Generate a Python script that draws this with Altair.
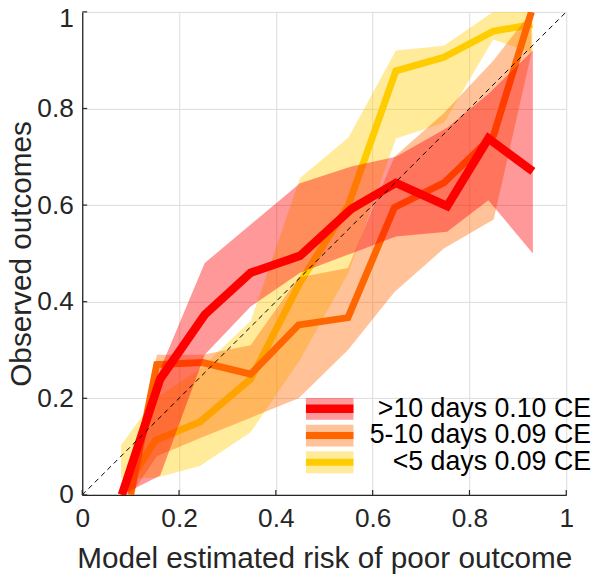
import altair as alt
import pandas as pd

# ---------------- data ----------------
red_x  = [0.082, 0.161, 0.253, 0.348, 0.450, 0.556, 0.648, 0.754, 0.839, 0.931]
red_y  = [0.000, 0.240, 0.373, 0.460, 0.495, 0.592, 0.646, 0.598, 0.738, 0.670]
red_lo = [0.000, 0.040, 0.290, 0.390, 0.460, 0.500, 0.535, 0.545, 0.610, 0.500]
red_hi = [0.000, 0.260, 0.480, 0.560, 0.645, 0.680, 0.700, 0.760, 0.830, 0.920]

org_x  = [0.100, 0.154, 0.249, 0.348, 0.447, 0.549, 0.645, 0.747, 0.850, 0.928]
org_y  = [0.000, 0.270, 0.274, 0.250, 0.352, 0.367, 0.595, 0.646, 0.745, 1.000]
org_lo = [0.000, 0.080, 0.120, 0.160, 0.200, 0.300, 0.420, 0.510, 0.570, 0.915]
org_hi = [0.000, 0.290, 0.290, 0.310, 0.450, 0.470, 0.700, 0.790, 0.900, 1.000]

yel_x  = [0.080, 0.151, 0.243, 0.348, 0.450, 0.550, 0.648, 0.747, 0.849, 0.930]
yel_y  = [0.000, 0.113, 0.151, 0.240, 0.440, 0.600, 0.878, 0.906, 0.960, 0.974]
yel_lo = [0.035, 0.035, 0.060, 0.130, 0.280, 0.460, 0.738, 0.770, 0.943, 0.915]
yel_hi = [0.103, 0.200, 0.260, 0.360, 0.656, 0.740, 0.920, 0.930, 1.000, 1.000]

diag_x = [0.0, 1.0]
diag_y = [0.0, 1.0]

tick_values = [0, 0.2, 0.4, 0.6, 0.8, 1.0]

legend_labels = [">10 days 0.10 CE", "5-10 days 0.09 CE", "<5 days 0.09 CE"]
line_colors = ["#ff0000", "#ff6600", "#ffcc00"]
line_widths = [8.5, 7, 7]

# ---------------- styling ----------------
FONT = "Liberation Sans"
TXT = "#262626"
W, H = 489, 488

xs = alt.Scale(domain=[0, 1], nice=False, zero=False)
ys = alt.Scale(domain=[0, 1], nice=False, zero=False)

xaxis = alt.Axis(values=tick_values, format="~g", title="Model estimated risk of poor outcome",
                 grid=True, tickSize=0, labelPadding=11, titlePadding=12,
                 labelFlush=False)
yaxis = alt.Axis(values=tick_values, format="~g", title="Observed outcomes",
                 grid=True, tickSize=0, labelPadding=9, titlePadding=0,
                 labelFlush=False,
                 labelOffset={"condition": {"test": "datum.value === 1", "value": 7}, "value": 0})


def series(xv, yv, lo, hi, color, width):
    d = pd.DataFrame({"x": xv, "y": yv, "lo": lo, "hi": hi})
    band = alt.Chart(d).mark_area(color=color, opacity=0.4, clip=True, interpolate="linear").encode(
        x=alt.X("x:Q", scale=xs, axis=xaxis),
        y=alt.Y("lo:Q", scale=ys, axis=yaxis),
        y2="hi:Q",
    )
    line = alt.Chart(d).mark_line(color=color, strokeWidth=width, clip=True,
                                  strokeJoin="miter", strokeCap="butt").encode(
        x=alt.X("x:Q", scale=xs, axis=xaxis),
        y=alt.Y("y:Q", scale=ys, axis=yaxis),
        order="x:Q",
    )
    return [band, line]


layers = []
layers += series(yel_x, yel_y, yel_lo, yel_hi, line_colors[2], line_widths[2])
layers += series(org_x, org_y, org_lo, org_hi, line_colors[1], line_widths[1])
layers += series(red_x, red_y, red_lo, red_hi, line_colors[0], line_widths[0])

diag = alt.Chart(pd.DataFrame({"x": diag_x, "y": diag_y})).mark_line(
    color="black", strokeWidth=1, strokeDash=[5, 4]).encode(
    x=alt.X("x:Q", scale=xs, axis=xaxis),
    y=alt.Y("y:Q", scale=ys, axis=yaxis),
)
layers.append(diag)

# inward ticks (MATLAB style)
tdf = pd.DataFrame({"v": tick_values})
xt = alt.Chart(tdf).mark_rule(color=TXT, strokeWidth=1.2).encode(
    x=alt.X("v:Q", scale=xs, axis=xaxis), y=alt.value(H), y2=alt.value(H - 5))
yt = alt.Chart(tdf).mark_rule(color=TXT, strokeWidth=1.2).encode(
    y=alt.Y("v:Q", scale=ys, axis=yaxis), x=alt.value(0), x2=alt.value(5))
layers += [xt, yt]

# legend (manual, no box)
row_y = [401, 428, 455]
sym_x0, sym_x1, text_x = 226, 274, 514
for i, lab in enumerate(legend_labels):
    ld = alt.Data(values=[{"label": lab}])
    layers.append(alt.Chart(ld).mark_rule(color=line_colors[i], opacity=0.4, strokeWidth=22).encode(
        x=alt.value(sym_x0), x2=alt.value(sym_x1), y=alt.value(row_y[i])))
    layers.append(alt.Chart(ld).mark_rule(color=line_colors[i], strokeWidth=line_widths[i]).encode(
        x=alt.value(sym_x0), x2=alt.value(sym_x1), y=alt.value(row_y[i])))
    layers.append(alt.Chart(ld).mark_text(align="right", baseline="middle", font=FONT,
                                          fontSize=27, color="black").encode(
        text="label:N", x=alt.value(text_x), y=alt.value(row_y[i])))

chart = alt.layer(*layers).properties(
    width=W, height=H,
    autosize=alt.AutoSizeParams(type="none"),
    padding={"left": 75, "top": 1, "right": 26, "bottom": 80},
).configure_view(stroke=None).configure_axis(
    labelFont=FONT, titleFont=FONT, labelFontSize=26.5, titleFontSize=30,
    labelColor=TXT, titleColor=TXT, titleFontWeight="normal",
    gridColor="#dcdcdc", gridWidth=1, domainColor=TXT, domainWidth=1.3,
)

chart.save("out.html", embed_options={"renderer": "svg", "actions": False})
